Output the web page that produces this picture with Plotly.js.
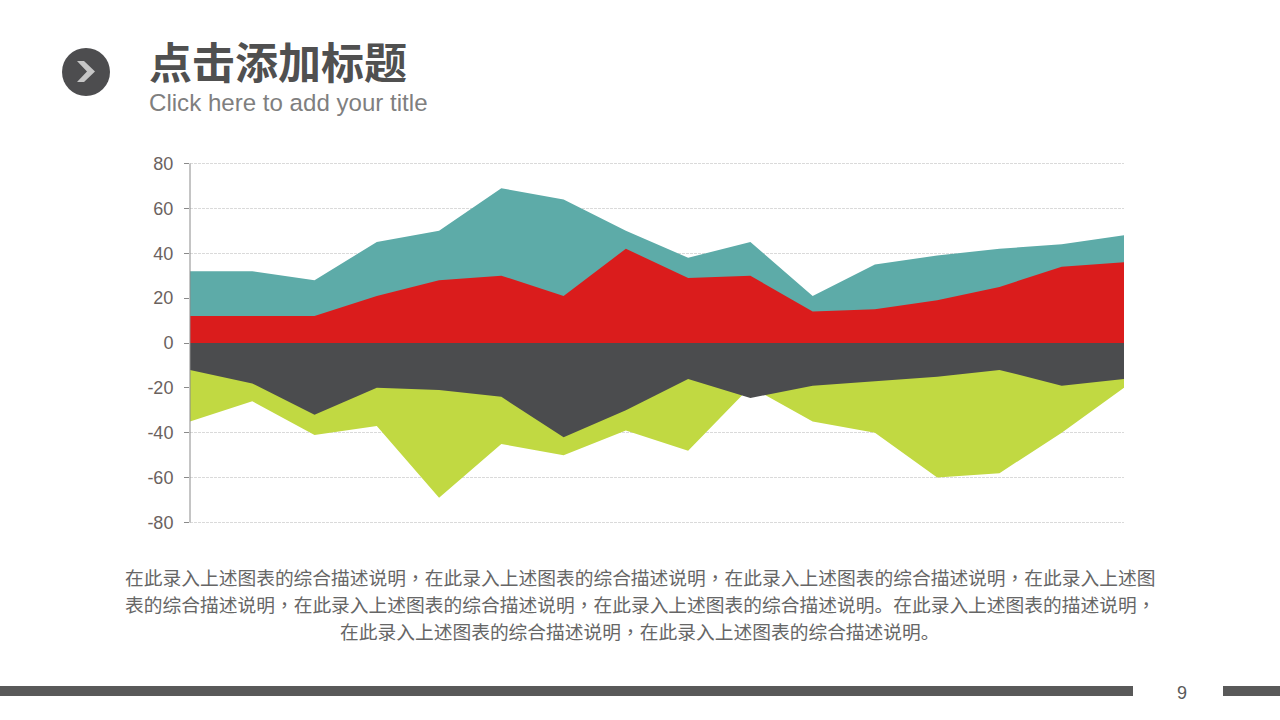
<!DOCTYPE html>
<html>
<head>
<meta charset="utf-8">
<script src="https://cdn.plot.ly/plotly-3.0.1.min.js"></script>
<style>html,body{margin:0;padding:0;background:#fff;overflow:hidden}#chart{width:1280px;height:720px}</style>
</head>
<body>
<div id="chart"></div>
<script>
const points = [0,1,2,3,4,5,6,7,8,9,10,11,12,13,14,15];
const tealValues = [32,32,28,45,50,69,64,50,38,45,21,35,39,42,44,48];
const redValues = [12,12,12,21,28,30,21,42,29,30,14,15,19,25,34,36];
const darkValues = [-12,-18,-32,-20,-21,-24,-42,-30,-16,-24.5,-19,-17,-15,-12,-19,-16];
const greenValues = [-35,-26,-41,-37,-69,-45,-50,-39,-48,-19.5,-35,-40,-60,-58,-40,-20];
const yTicks = [-80,-60,-40,-20,0,20,40,60,80];
const titleText = '点击添加标题';
const subtitleText = 'Click here to add your title';
const bodyLines = [
  '在此录入上述图表的综合描述说明，在此录入上述图表的综合描述说明，在此录入上述图表的综合描述说明，在此录入上述图',
  '表的综合描述说明，在此录入上述图表的综合描述说明，在此录入上述图表的综合描述说明。在此录入上述图表的描述说明，',
  '在此录入上述图表的综合描述说明，在此录入上述图表的综合描述说明。'
];
const pageNumber = '9';

const L = 190, R = 1124, T = 162, B = 524;
const px = x => (x - L) / (R - L);
const py = y => (B - y) / (B - T);

const area = (y, color) => ({
  x: points, y: y, type: 'scatter', mode: 'none', fill: 'tozeroy',
  fillcolor: color, hoverinfo: 'skip', showlegend: false
});

const traces = [
  area(tealValues, '#5DABA8'),
  area(redValues, '#DA1C1C'),
  area(greenValues, '#C1D942'),
  area(darkValues, '#4B4C4E')
];

const label = (text, x, y, size, color, anchor, family, bold) => ({
  text: bold ? '<b>' + text + '</b>' : text,
  x: px(x), y: py(y), xref: 'paper', yref: 'paper',
  xanchor: anchor, yanchor: 'middle', showarrow: false, align: anchor,
  font: {size: size, color: color, family: family}
});

const cjk = '"Noto Sans CJK SC", sans-serif';
const latin = '"Liberation Sans", Arial, sans-serif';
const centeredComma = s => s.replace(/，/g, '<span style="font-family:Noto Sans CJK TC">，</span>');

const rect = (x0, y0, x1, y1, color) => ({
  type: 'rect', xref: 'paper', yref: 'paper', layer: 'above',
  x0: px(x0), x1: px(x1), y0: py(y0), y1: py(y1),
  fillcolor: color, line: {width: 0}
});

const chevron = [[77,61],[84,61],[95,71.5],[84,82],[77,82],[87,71.5]];

const layout = {
  width: 1280, height: 720,
  paper_bgcolor: '#ffffff', plot_bgcolor: '#ffffff',
  margin: {l: L, r: 1280 - R, t: T, b: 720 - B, pad: 0},
  showlegend: false,
  xaxis: {range: [0, 15], visible: false, fixedrange: true},
  yaxis: {
    range: [-80.67, 80.67], tickvals: yTicks, ticktext: yTicks.map(String),
    showgrid: true, gridcolor: '#DADADA', gridwidth: 1, griddash: '3px,1px',
    zeroline: false, showline: false,
    ticks: 'outside', ticklen: 5, tickcolor: '#8A8A8A', tickwidth: 1,
    ticklabelstandoff: 7,
    tickfont: {size: 18, color: '#6B625E', family: latin}, fixedrange: true
  },
  shapes: [
    {
      type: 'line', xref: 'paper', yref: 'y', layer: 'above',
      x0: 0, x1: 0, y0: yTicks[0], y1: yTicks[yTicks.length - 1],
      line: {color: '#8A8A8A', width: 1}
    },
    Object.assign(rect(62, 48, 110, 96, '#4D4D4F'), {type: 'circle'}),
    {
      type: 'path', xref: 'paper', yref: 'paper', layer: 'above',
      path: 'M' + chevron.map(p => px(p[0]) + ',' + py(p[1])).join(' L') + ' Z',
      fillcolor: '#C6C6C6', line: {width: 0}
    },
    rect(0, 686, 1133, 696, '#595959'),
    rect(1223, 686, 1280, 696, '#595959')
  ],
  annotations: [
    label(titleText, 147, 60, 43, '#505050', 'left', cjk, true),
    label(subtitleText, 147, 102, 24.1, '#7F7F7F', 'left', latin, false),
    label(centeredComma(bodyLines[0]), 640, 576, 18.74, '#666666', 'center', cjk, false),
    label(centeredComma(bodyLines[1]), 640, 603, 18.74, '#666666', 'center', cjk, false),
    label(centeredComma(bodyLines[2]), 640, 630, 18.74, '#666666', 'center', cjk, false),
    label(pageNumber, 1182, 693, 18, '#595959', 'center', latin, false)
  ]
};

Plotly.newPlot('chart', traces, layout, {staticPlot: true, displayModeBar: false});
</script>
</body>
</html>
